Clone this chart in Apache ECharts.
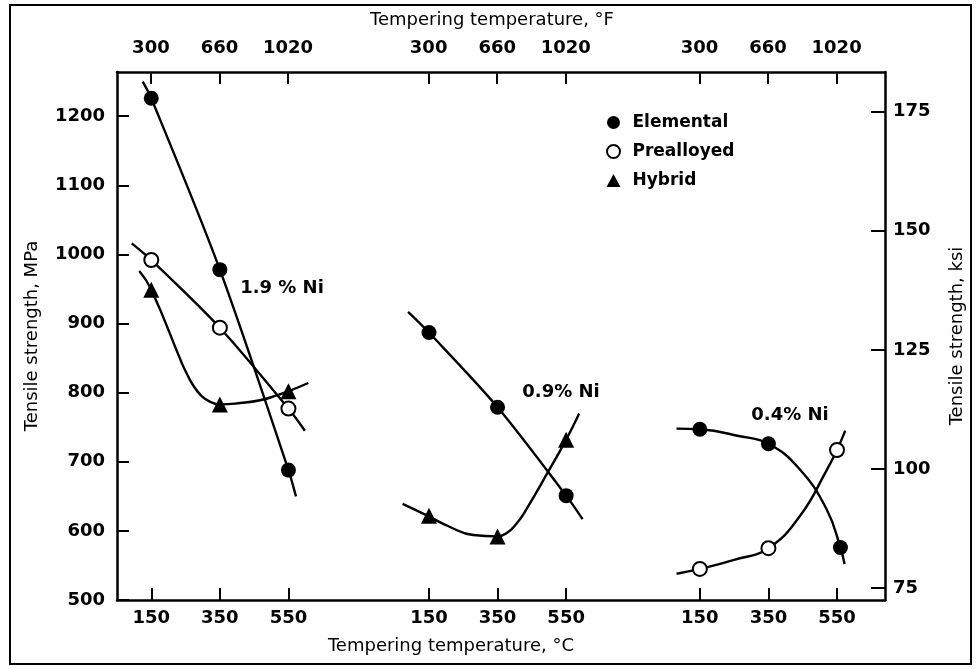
<!DOCTYPE html>
<html>
<head>
<meta charset="utf-8">
<script src="https://cdn.jsdelivr.net/npm/echarts@6/dist/echarts.min.js"></script>
<style>
  html, body { margin: 0; padding: 0; background: #fff; }
  #chart { width: 977px; height: 669px; }
</style>
</head>
<body>
<div id="chart"></div>
<script>
// ---------------- data ----------------
// Tick labels
const C_TICKS = [150, 350, 550];            // °C
const F_TICKS = [300, 660, 1020];           // °F
const MPA_TICKS = [500, 600, 700, 800, 900, 1000, 1100, 1200];
const KSI_TICKS = [75, 100, 125, 150, 175];
const PANEL_LABELS = ['1.9 % Ni', '0.9% Ni', '0.4% Ni'];
const MATERIALS = ['Elemental', 'Prealloyed', 'Hybrid'];

// Measured points [tempering °C, tensile strength MPa]
const elemental19 = [[150, 1226], [350, 978], [550, 688]];
const prealloyed19 = [[150, 992], [350, 894], [550, 777]];
const hybrid19 = [[150, 949], [350, 783], [550, 802]];
const elemental09 = [[150, 887], [350, 779], [550, 651]];
const hybrid09 = [[150, 622], [350, 592], [550, 732]];
const elemental04 = [[150, 747], [350, 726], [560, 576]];
const prealloyed04 = [[150, 545], [350, 575], [550, 717]];

// Drawn trend curves [°C, MPa]
const elementalCurve19 = [[125, 1250], [150, 1226], [350, 978], [550, 688], [572, 650]];
const prealloyedCurve19 = [[93, 1016], [150, 992], [350, 894], [550, 777], [598, 745]];
const hybridCurve19 = [[115, 976], [150, 949], [239, 843], [253, 828], [273, 810], [297, 795], [321, 787], [350, 783], [410, 785], [467, 789], [516, 796], [550, 802], [608, 814]];
const elementalCurve09 = [[89, 917], [150, 887], [350, 779], [550, 651], [598, 617]];
const hybridCurve09 = [[73, 639], [145, 622], [210, 606], [279, 594], [350, 592], [377, 597], [406, 611], [430, 628], [498, 686], [550, 732], [588, 770]];
const elementalCurve04 = [[82, 748], [150, 747], [267, 737], [350, 726], [440, 690], [520, 631], [560, 576], [572, 552]];
const prealloyedCurve04 = [[82, 538], [150, 545], [250, 558], [350, 575], [444, 623], [520, 688], [550, 717], [574, 745]];

// ---------------- layout constants ----------------
const PANEL_OFFSET = [0, 810, 1600];  // horizontal shift of each panel on the shared axis
const X_MIN = 50, X_MAX = 2290;
const Y_MIN = 500, Y_MAX = 1264;
const MPA_PER_KSI = 6.895;

const shift = (arr, p) => arr.map(d => [d[0] + PANEL_OFFSET[p], d[1]]);
const panelOf = v => (v >= PANEL_OFFSET[2] - 200 ? 2 : (v >= PANEL_OFFSET[1] - 200 ? 1 : 0));

const cTickPos = [];
const fTickPos = [];
PANEL_OFFSET.forEach(off => {
  C_TICKS.forEach(c => cTickPos.push(c + off));
  F_TICKS.forEach(f => fTickPos.push((f - 32) / 1.8 + off));
});

const FONT_NUM = { fontFamily: 'DejaVu Sans', fontWeight: 'bold', fontSize: 18, color: '#000' };
const FONT_NAME = { fontFamily: 'DejaVu Sans', fontWeight: 'normal', fontSize: 18, color: '#000' };
const AXIS_LINE = { show: true, lineStyle: { color: '#000', width: 2.5 } };

const curve = (data, p, smooth) => ({
  type: 'line', data: shift(data, p), smooth: smooth, showSymbol: false, symbol: 'none',
  lineStyle: { color: '#000', width: 2.4 }, silent: true, z: 2, xAxisIndex: 0, yAxisIndex: 0,
  animation: false
});

const series = [
  curve(elementalCurve19, 0, 0.3),
  curve(prealloyedCurve19, 0, 0.3),
  curve(hybridCurve19, 0, 0.5),
  curve(elementalCurve09, 1, 0.3),
  curve(hybridCurve09, 1, 0.5),
  curve(elementalCurve04, 2, 0.45),
  curve(prealloyedCurve04, 2, 0.45),
  {
    name: 'Elemental', type: 'scatter', symbol: 'circle', symbolSize: 15, z: 5,
    itemStyle: { color: '#000', opacity: 1 },
    data: [].concat(shift(elemental19, 0), shift(elemental09, 1), shift(elemental04, 2))
  },
  {
    name: 'Prealloyed', type: 'scatter', symbol: 'circle', symbolSize: 14, z: 5,
    itemStyle: { color: '#fff', borderColor: '#000', borderWidth: 2, opacity: 1 },
    data: [].concat(shift(prealloyed19, 0), shift(prealloyed04, 2))
  },
  {
    name: 'Hybrid', type: 'scatter', symbol: 'triangle', symbolSize: 16, z: 5,
    itemStyle: { color: '#000', opacity: 1 },
    data: [].concat(shift(hybrid19, 0), shift(hybrid09, 1))
  }
];

const chart = echarts.init(document.getElementById('chart'), null, { renderer: 'canvas' });

const option = {
  animation: false,
  backgroundColor: '#fff',
  grid: { left: 117, right: 92, top: 72, bottom: 69, containLabel: false },
  legend: {
    data: MATERIALS, orient: 'vertical', left: 606, top: 114, padding: 0,
    itemWidth: 14, itemHeight: 13, itemGap: 12,
    textStyle: { fontFamily: 'DejaVu Sans', fontWeight: 'bold', fontSize: 17, color: '#000', padding: [0, 0, 0, 7] },
    selectedMode: false
  },
  xAxis: [
    {
      type: 'value', position: 'bottom', min: X_MIN, max: X_MAX,
      axisLine: AXIS_LINE,
      axisTick: { show: true, inside: true, length: 12, customValues: cTickPos, lineStyle: { color: '#000', width: 2 } },
      axisLabel: {
        customValues: cTickPos, margin: 9, ...FONT_NUM,
        formatter: v => String(Math.round(v - PANEL_OFFSET[panelOf(v)]))
      },
      splitLine: { show: false },
      name: 'Tempering temperature, °C', nameLocation: 'middle', nameGap: 37,
      nameTextStyle: { ...FONT_NAME, padding: [0, 100, 0, 0] }
    },
    {
      type: 'value', position: 'top', min: X_MIN, max: X_MAX,
      axisLine: AXIS_LINE,
      axisTick: { show: true, inside: true, length: 12, customValues: fTickPos, lineStyle: { color: '#000', width: 2 } },
      axisLabel: {
        customValues: fTickPos, margin: 15, ...FONT_NUM,
        formatter: v => String(Math.round((v - PANEL_OFFSET[panelOf(v)]) * 1.8 + 32))
      },
      splitLine: { show: false },
      name: 'Tempering temperature, °F', nameLocation: 'middle', nameGap: 43,
      nameTextStyle: { ...FONT_NAME, padding: [0, 18, 0, 0] }
    }
  ],
  yAxis: [
    {
      type: 'value', position: 'left', min: Y_MIN, max: Y_MAX,
      axisLine: AXIS_LINE,
      axisTick: { show: true, inside: true, length: 12, customValues: MPA_TICKS, lineStyle: { color: '#000', width: 2 } },
      axisLabel: { customValues: MPA_TICKS, margin: 12, ...FONT_NUM, formatter: v => String(v) },
      splitLine: { show: false },
      name: 'Tensile strength, MPa', nameLocation: 'middle', nameGap: 76, nameRotate: 90,
      nameTextStyle: FONT_NAME
    },
    {
      type: 'value', position: 'right', min: Y_MIN / MPA_PER_KSI, max: Y_MAX / MPA_PER_KSI,
      axisLine: AXIS_LINE,
      axisTick: { show: true, inside: true, length: 14, customValues: KSI_TICKS, lineStyle: { color: '#000', width: 2 } },
      axisLabel: { customValues: KSI_TICKS, margin: 8, ...FONT_NUM, formatter: v => String(v) },
      splitLine: { show: false },
      name: 'Tensile strength, ksi', nameLocation: 'middle', nameGap: 63, nameRotate: 90,
      nameTextStyle: FONT_NAME
    }
  ],
  graphic: [
    { type: 'rect', shape: { x: 10, y: 5, width: 961, height: 659 }, style: { fill: 'none', stroke: '#000', lineWidth: 2 }, z: -1, silent: true },
    { type: 'text', x: 282, y: 288, style: { text: PANEL_LABELS[0], align: 'center', verticalAlign: 'middle', fontFamily: 'DejaVu Sans', fontWeight: 'bold', fontSize: 18, fill: '#000' } },
    { type: 'text', x: 561, y: 392, style: { text: PANEL_LABELS[1], align: 'center', verticalAlign: 'middle', fontFamily: 'DejaVu Sans', fontWeight: 'bold', fontSize: 18, fill: '#000' } },
    { type: 'text', x: 790, y: 415, style: { text: PANEL_LABELS[2], align: 'center', verticalAlign: 'middle', fontFamily: 'DejaVu Sans', fontWeight: 'bold', fontSize: 18, fill: '#000' } }
  ],
  series: series
};

chart.setOption(option);
</script>
</body>
</html>
